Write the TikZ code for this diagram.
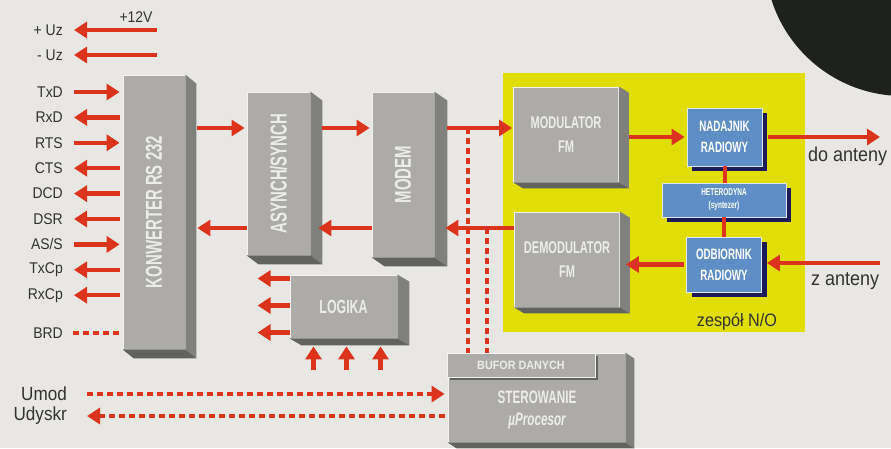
\documentclass[tikz,border=0pt]{standalone}
\usepackage{fontspec}
\setmainfont{Liberation Sans}[FakeStretch=0.9]
\newfontfamily\blokfont{Liberation Sans}[FakeStretch=0.65]
\usetikzlibrary{arrows.meta, positioning, shadows}

\definecolor{tlo}{RGB}{232,231,227}
\definecolor{czerw}{RGB}{220,52,28}
\definecolor{szary}{RGB}{172,171,168}
\definecolor{bok}{RGB}{128,128,125}
\definecolor{spod}{RGB}{98,98,95}
\definecolor{napis}{RGB}{236,236,232}
\definecolor{zolty}{RGB}{224,222,4}
\definecolor{niebieski}{RGB}{95,142,198}
\definecolor{granat}{RGB}{28,26,88}
\definecolor{tekst}{RGB}{50,50,50}
\definecolor{czarny}{RGB}{30,33,30}

\tikzset{
  blok/.style={fill=szary, draw=white!85!szary, line width=0.8pt, inner sep=0pt,
    text=napis, align=center, font=\blokfont\bfseries\fontsize{17}{24}\selectfont},
  radio/.style={fill=niebieski, draw=white!80!niebieski, line width=0.8pt, inner sep=0pt,
    text=white, align=center, font=\blokfont\bfseries\fontsize{15}{21}\selectfont,
    drop shadow={shadow xshift=5pt, shadow yshift=-5pt, fill=granat, opacity=1}},
  sygnal/.style={anchor=east, inner sep=0pt, text=tekst, font=\fontsize{15.5}{18}\selectfont},
  strz/.style={draw=czerw, line width=4.5pt, -{Triangle[length=13pt,width=16pt]}},
  wej/.style={strz},
  wyj/.style={draw=czerw, line width=4.5pt, {Triangle[length=13pt,width=16pt]}-},
  przer/.style={draw=czerw, line width=4pt, dash pattern=on 6pt off 4pt},
  linia/.style={draw=czerw, line width=4pt},
  pion/.style={font=\blokfont\bfseries\fontsize{23}{24}\selectfont},
}

\begin{document}
\begin{tikzpicture}[x=1pt, y=-1pt]
  \useasboundingbox (0,0) rectangle (891,448);
  \clip (0,0) rectangle (891,448);
  \fill[tlo] (0,0) rectangle (891,448);
  \fill[czarny] (903,-42) circle (138);

  % zespol N/O
  \node[fill=zolty, minimum width=302, minimum height=259, inner sep=0pt] (zesp) at (654,202.5) {};
  \node[sygnal, anchor=center, font=\fontsize{18}{20}\selectfont] (zespNO) at (737,322) {zespół N/O};

  % bloki
  \node[blok, pion, minimum width=62, minimum height=274] (rs)     at (154,212)   {\rotatebox{90}{KONWERTER RS 232}};
  \node[blok, pion, minimum width=63, minimum height=163] (asyn)   at (278.5,173.5) {\rotatebox{90}{ASYNCH/SYNCH}};
  \node[blok, pion, minimum width=62, minimum height=165] (modem)  at (403,174.5) {\rotatebox{90}{MODEM}};
  \node[blok, minimum width=105, minimum height=95]       (modul)  at (566,134.5) {MODULATOR\\FM};
  \node[blok, minimum width=105, minimum height=95]       (demod)  at (567,259.5) {DEMODULATOR\\FM};
  \node[blok, minimum width=107, minimum height=63,
        font=\blokfont\bfseries\fontsize{19}{20}\selectfont] (logika) at (343.5,306.5) {LOGIKA};
  \node[blok, minimum width=177, minimum height=89]       (sterow) at (536.5,397.5) {};
  \node[blok, minimum width=148, minimum height=24, font=\bfseries\fontsize{12}{12}\selectfont,
        drop shadow={shadow xshift=3pt, shadow yshift=-3pt, fill=spod, opacity=1}] (bufor) at (521,365) {BUFOR DANYCH};
  \node[text=napis, align=center, font=\blokfont\bfseries\fontsize{18}{22}\selectfont] (sterowT) at (537,410) {STEROWANIE\\{\itshape µProcesor}};

  \node[radio, minimum width=75, minimum height=58]  (nadajnik)  at (724.5,137) {NADAJNIK\\RADIOWY};
  \node[radio, minimum width=124, minimum height=34,
        font=\blokfont\bfseries\fontsize{10}{13}\selectfont] (hetero) at (724,200) {HETERODYNA\\(syntezer)};
  \node[radio, minimum width=75, minimum height=55]  (odbiornik) at (724,264.5) {ODBIORNIK\\RADIOWY};

  % boki bloków
  \foreach \b/\gx/\gy in {rs/11/9, asyn/12/9, modem/13/9, modul/10/6, demod/10/6, logika/12/7, sterow/9/6}{
    \fill[bok] (\b.north east) -- ++(\gx,\gy) -- ([shift={(\gx,\gy)}]\b.south east) -- (\b.south east) -- cycle;
    \fill[spod] (\b.south west) -- ++(\gx,\gy) -- ([shift={(\gx,\gy)}]\b.south east) -- (\b.south east) -- cycle;
  }

  % zasilanie
  \node[sygnal] (uzp) at (63,30) {+ Uz};
  \node[sygnal] (uzm) at (63,55) {- Uz};
  \node[sygnal, anchor=center] (v12) at (136,17) {+12V};
  \coordinate (zasil) at (157,0);
  \draw[wyj] ([xshift=11]uzp.east) -- (zasil |- uzp.east);
  \draw[wyj] ([xshift=11]uzm.east) -- (zasil |- uzm.east);

  % sygnaly RS 232
  \foreach \sig/\kier [count=\i] in {TxD/wej, RxD/wyj, RTS/wej, CTS/wyj, DCD/wyj, DSR/wyj, {AS/S}/wej, TxCp/wyj, RxCp/wyj}{
    \node[sygnal] (sig\i) at (63,{92+25.4*(\i-1)}) {\sig};
    \draw[\kier] ([xshift=11]sig\i.east) -- ([xshift=-3]rs.west |- sig\i.east);
  }
  \node[sygnal] (brd) at (63,333) {BRD};
  \draw[przer] ([xshift=10]brd.east) -- ([xshift=-3]rs.west |- brd.east);

  % sterowanie
  \node[sygnal, anchor=east, font=\fontsize{19}{20}\selectfont] (umod)   at (67,394) {Umod};
  \node[sygnal, anchor=east, font=\fontsize{19}{20}\selectfont] (udyskr) at (67,416) {Udyskr};
  \coordinate (odg1) at (468,128);
  \coordinate (odg2) at (487,228);
  \draw[przer] (odg1) -- (odg1 |- bufor.north);
  \draw[przer] (odg2) -- (odg2 |- bufor.north);
  \draw[przer, -{Triangle[length=13pt,width=16pt]}] ([xshift=20]umod.east) -- ([xshift=-3]sterow.west |- umod.east);
  \draw[przer, {Triangle[length=13pt,width=16pt]}-] ([xshift=20]udyskr.east) -- (sterow.west |- udyskr.east);

  % tor danych
  \coordinate (gora) at (0,128);
  \coordinate (dol)  at (0,228);
  \draw[strz] ([xshift=12]rs.east |- gora) -- ([xshift=-2]asyn.west |- gora);
  \draw[strz] (asyn.west |- dol) -- ([xshift=12]rs.east |- dol);
  \draw[strz] ([xshift=12]asyn.east |- gora) -- ([xshift=-2]modem.west |- gora);
  \draw[strz] (modem.west |- dol) -- ([xshift=8]asyn.east |- dol);
  \draw[strz] ([xshift=13]modem.east |- gora) -- ([xshift=-1]modul.west |- gora);
  \draw[strz] (demod.west |- dol) -- ([xshift=11]modem.east |- dol);

  % tor radiowy
  \draw[strz] ([xshift=10]modul.east |- nadajnik.west) -- ([xshift=-2]nadajnik.west);
  \coordinate (doant) at (880,137);
  \draw[strz] ([xshift=6]nadajnik.east) -- (doant);
  \node[sygnal, anchor=west, font=\fontsize{20}{22}\selectfont] (doantT) at (808,156) {do anteny};
  \coordinate (zant) at (880,263);
  \draw[strz] (zant) -- ([xshift=5]odbiornik.east |- zant);
  \node[sygnal, anchor=west, font=\fontsize{20}{22}\selectfont] (zantT) at (811,281) {z anteny};
  \draw[strz] ([xshift=-2]odbiornik.west) -- ([xshift=6]demod.east |- odbiornik.west);
  \draw[linia] (nadajnik.south) -- (nadajnik.south |- hetero.north);
  \draw[linia] (hetero.south) -- (hetero.south |- odbiornik.north);

  % logika
  \foreach \dy in {28,1,-26}
    \draw[strz] ([yshift=\dy]logika.west) -- ++(-32,0);
  \foreach \dx in {-30,3,37}
    \draw[strz] ([xshift=\dx,yshift=-32]logika.south) -- ([xshift=\dx,yshift=-8]logika.south);
\end{tikzpicture}
\end{document}
